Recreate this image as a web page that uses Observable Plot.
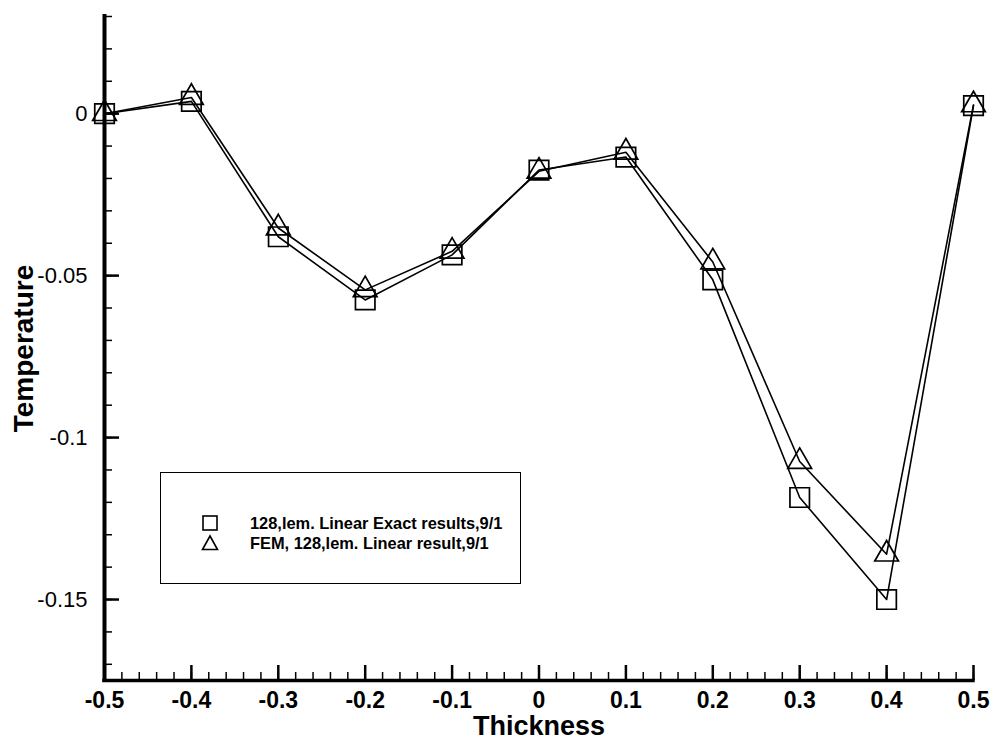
<!DOCTYPE html>
<html><head><meta charset="utf-8">
<script src="https://cdn.jsdelivr.net/npm/d3@7"></script>
<script src="https://cdn.jsdelivr.net/npm/@observablehq/plot@0.6"></script>
<style>
body{margin:0;background:#fff;}
#wrap{position:relative;width:996px;height:744px;font-family:"Liberation Sans",Arial,sans-serif;}
#legend{position:absolute;left:160px;top:472px;width:359px;height:110px;border:1.5px solid #000;background:#fff;}
#legend .row{position:absolute;left:40px;height:20px;display:flex;align-items:center;font-weight:bold;font-size:16.4px;white-space:nowrap;}
#legend .row svg{margin-right:31px;}
</style></head>
<body><div id="wrap"></div>
<script>
const thickness = [-0.5, -0.4, -0.3, -0.2, -0.1, 0, 0.1, 0.2, 0.3, 0.4, 0.5];
const exactTemp = [0, 0.0038, -0.038, -0.0575, -0.0436, -0.0174, -0.0134, -0.0513, -0.1185, -0.150, 0.0025];
const femTemp   = [0, 0.0050, -0.0353, -0.0544, -0.0425, -0.0178, -0.0119, -0.0458, -0.1074, -0.136, 0.0027];
const seriesNames = ["128,lem. Linear Exact results,9/1", "FEM, 128,lem. Linear result,9/1"];
const xTicks = [-0.5, -0.4, -0.3, -0.2, -0.1, 0, 0.1, 0.2, 0.3, 0.4, 0.5];
const xTickLabels = ["-0.5", "-0.4", "-0.3", "-0.2", "-0.1", "0", "0.1", "0.2", "0.3", "0.4", "0.5"];
const yTicks = [0, -0.05, -0.1, -0.15];
const yTickLabels = ["0", "-0.05", "-0.1", "-0.15"];
const xDomain = [-0.5, 0.5];
const yDomain = [-0.175, 0.03];
const xLabel = "Thickness";
const yLabel = "Temperature";

const xMinor = d3.range(-50, 51, 2).map(v => v / 100);
const yMinor = d3.range(-17, 4, 1).map(v => v / 100);

const W = 996, H = 744, mL = 104, mR = 23, mT = 16, mB = 64;
const pw = W - mL - mR, ph = H - mT - mB;

const exactPts = thickness.map((x, i) => ({x, y: exactTemp[i]}));
const femPts = thickness.map((x, i) => ({x, y: femTemp[i]}));

const chart = Plot.plot({
  width: W, height: H,
  marginLeft: mL, marginRight: mR, marginTop: mT, marginBottom: mB,
  x: {domain: xDomain},
  y: {domain: yDomain},
  style: {fontFamily: "'Liberation Sans', Arial, sans-serif", background: "white", color: "black"},
  marks: [
    Plot.ruleX(xMinor, {x: d => d, insetTop: ph - 8, stroke: "black", strokeWidth: 1.5}),
    Plot.ruleX(xTicks, {x: d => d, insetTop: ph - 15, stroke: "black", strokeWidth: 2.5}),
    Plot.ruleY(yMinor, {y: d => d, insetRight: pw - 8, stroke: "black", strokeWidth: 1.5}),
    Plot.ruleY(yTicks, {y: d => d, insetRight: pw - 15, stroke: "black", strokeWidth: 2.5}),
    Plot.ruleY([yDomain[0]], {stroke: "black", strokeWidth: 3.5, strokeLinecap: "square"}),
    Plot.ruleX([xDomain[0]], {stroke: "black", strokeWidth: 4, strokeLinecap: "square"}),
    Plot.axisX(xTicks, {tickSize: 0, tickPadding: 11, fontSize: 23, fontWeight: "bold",
      tickFormat: d => xTickLabels[xTicks.indexOf(d)], label: null}),
    Plot.axisY(yTicks, {tickSize: 0, tickPadding: 17, fontSize: 22,
      tickFormat: d => yTickLabels[yTicks.indexOf(d)], label: null}),
    Plot.text([xLabel], {text: d => d, frameAnchor: "bottom", dy: 46, lineAnchor: "middle", textAnchor: "middle", fontSize: 27, fontWeight: "bold"}),
    Plot.text([yLabel], {text: d => d, frameAnchor: "left", dx: -80, rotate: -90, lineAnchor: "middle", textAnchor: "middle", fontSize: 28, fontWeight: "bold"}),
    Plot.line(exactPts, {x: "x", y: "y", stroke: "black", strokeWidth: 1.6}),
    Plot.line(femPts, {x: "x", y: "y", stroke: "black", strokeWidth: 1.6}),
    Plot.dot(exactPts, {x: "x", y: "y", symbol: "square", r: 11, stroke: "black", fill: "none", strokeWidth: 1.7}),
    Plot.dot(femPts, {x: "x", y: "y", symbol: "triangle", r: 8.8, stroke: "black", fill: "none", strokeWidth: 1.7})
  ]
});

const wrap = document.getElementById("wrap");
wrap.appendChild(chart);

const legend = document.createElement("div");
legend.id = "legend";
const symbols = [
  '<rect x="2" y="2" width="14" height="14" fill="none" stroke="black" stroke-width="1.6"/>',
  '<polygon points="9,2 16.5,15.5 1.5,15.5" fill="none" stroke="black" stroke-width="1.6"/>'
];
seriesNames.forEach((name, i) => {
  const row = document.createElement("div");
  row.className = "row";
  row.style.top = (40 + i * 20) + "px";
  row.innerHTML = `<svg width="18" height="18">${symbols[i]}</svg><span>${name}</span>`;
  legend.appendChild(row);
});
wrap.appendChild(legend);
</script>
</body></html>
